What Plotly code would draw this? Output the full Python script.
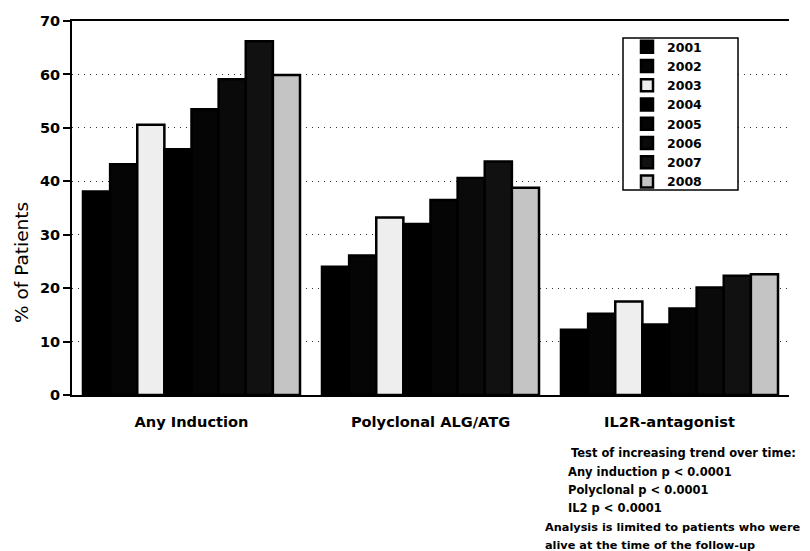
import plotly.graph_objects as go

# Induction use by year, three therapy groups
categories = ["Any Induction", "Polyclonal ALG/ATG", "IL2R-antagonist"]
years = ["2001", "2002", "2003", "2004", "2005", "2006", "2007", "2008"]

pct_2001 = [38.1, 24.0, 12.2]
pct_2002 = [43.2, 26.1, 15.2]
pct_2003 = [50.6, 33.2, 17.5]
pct_2004 = [46.0, 32.0, 13.2]
pct_2005 = [53.5, 36.5, 16.2]
pct_2006 = [59.1, 40.6, 20.1]
pct_2007 = [66.2, 43.7, 22.3]
pct_2008 = [59.9, 38.8, 22.6]

series = [pct_2001, pct_2002, pct_2003, pct_2004, pct_2005, pct_2006, pct_2007, pct_2008]
fills = ["#000000", "#050505", "#eeeeee", "#000000", "#050505", "#0a0a0a", "#111111", "#c4c4c4"]

font = "DejaVu Sans, Verdana, sans-serif"

# pixel -> paper helpers (plot area is x 72..789, y 21..395)
def px(x):
    return (x - 72) / 717

def py(y):
    return (395 - y) / 374

fig = go.Figure()
for yr, vals, col in zip(years, series, fills):
    fig.add_trace(go.Bar(
        x=categories, y=vals, name=yr,
        marker=dict(color=col, line=dict(color="#000000", width=2.5)),
    ))

fig.update_layout(
    width=810, height=551,
    barmode="group", bargap=0.092, bargroupgap=0,
    plot_bgcolor="white", paper_bgcolor="white",
    margin=dict(l=72, r=21, t=21, b=156),
    font=dict(family=font, color="black"),
    legend=dict(
        x=px(627), y=py(32), xanchor="left", yanchor="top",
        borderwidth=0, bgcolor="rgba(0,0,0,0)",
        font=dict(size=12.5, family=font, weight="bold", color="black"),
        itemwidth=30,
    ),
    showlegend=True,
)

# white legend frame
fig.add_shape(
    type="rect", xref="paper", yref="paper",
    x0=px(623), x1=px(738), y0=py(190), y1=py(38),
    line=dict(color="black", width=1.5), fillcolor="white", layer="above",
)

fig.update_yaxes(
    range=[0, 70], dtick=10, automargin=False,
    showline=True, linecolor="black", linewidth=2,
    ticks="outside", ticklen=7, tickcolor="black", tickwidth=2,
    tickfont=dict(size=14.5, family=font, weight="bold", color="black"),
    showgrid=True, gridcolor="#333333", griddash="1px,5px", gridwidth=1,
    zeroline=False,
)
fig.update_xaxes(
    showline=True, linecolor="black", linewidth=2, mirror=True,
    automargin=False,
    tickfont=dict(size=14.6, family=font, weight="bold", color="black"),
    ticks="", ticklabelstandoff=12,
)

# y-axis title, placed like in the original (sits below the plot centre)
fig.add_annotation(
    text="% of Patients", xref="paper", yref="paper",
    x=px(21), y=py(262), textangle=-90,
    xanchor="center", yanchor="middle", showarrow=False,
    font=dict(size=18.5, family=font, color="black"),
)

notes = [
    "Test of increasing trend over time:",
    "Any induction p < 0.0001",
    "Polyclonal p < 0.0001",
    "IL2 p < 0.0001",
    "Analysis is limited to patients who were",
    "alive at the time of the follow-up",
]
note_x = [569, 566, 566, 566, 543, 543]
note_y = [453, 472, 490, 508, 527, 545]
note_size = [11.5, 11.5, 11.5, 11.5, 11.3, 11.3]
for txt, nx, ny, fs in zip(notes, note_x, note_y, note_size):
    fig.add_annotation(
        text=txt, xref="paper", yref="paper",
        x=px(nx), y=py(ny),
        xanchor="left", yanchor="middle", showarrow=False,
        font=dict(size=fs, family=font, weight="bold", color="black"),
    )

fig.write_html(
    "out.html",
    config={"displayModeBar": False},
    post_script="document.body.style.margin='0';",
)
